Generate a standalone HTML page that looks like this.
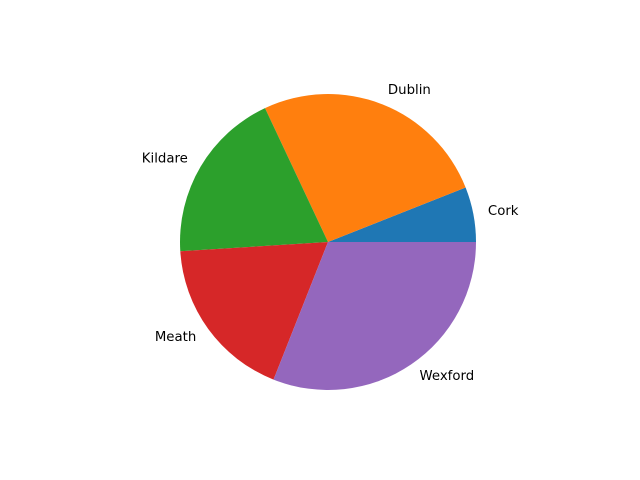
<!DOCTYPE html>
<html><head><meta charset="utf-8"><style>
body{margin:0;background:#fff}
svg{display:block}
text{font-family:"DejaVu Sans","Liberation Sans",sans-serif;font-size:13.3px;fill:#000}
</style></head><body>
<svg id="chart" width="640" height="480"></svg>
<script>
const categories=["Cork","Dublin","Kildare","Meath","Wexford"];
const values=[6,26,19,18,31];
const colors=["#1f77b4","#ff7f0e","#2ca02c","#d62728","#9467bd"];
const svg=document.getElementById('chart');
const NS="http://www.w3.org/2000/svg";
const cx=328,cy=242,r=148;
const total=values.reduce((a,b)=>a+b,0);
let a0=0;
function pt(a,rr){return [cx+rr*Math.cos(a*Math.PI/180),cy-rr*Math.sin(a*Math.PI/180)];}
values.forEach((v,i)=>{
  const a1=a0+v/total*360;
  const p0=pt(a0,r),p1=pt(a1,r);
  const large=(a1-a0)>180?1:0;
  const path=document.createElementNS(NS,'path');
  path.setAttribute('d',`M${cx},${cy} L${p0[0]},${p0[1]} A${r},${r} 0 ${large} 0 ${p1[0]},${p1[1]} Z`);
  path.setAttribute('fill',colors[i]);
  
  
  svg.appendChild(path);
  const mid=(a0+a1)/2;
  const lp=pt(mid,r*1.1);
  const t=document.createElementNS(NS,'text');
  t.setAttribute('x',lp[0]);t.setAttribute('y',lp[1]);
  t.setAttribute('dominant-baseline','central');
  t.setAttribute('text-anchor',Math.cos(mid*Math.PI/180)>=0?'start':'end');
  t.textContent=categories[i];
  
  
  svg.appendChild(t);
  a0=a1;
});
</script>
</body></html>
